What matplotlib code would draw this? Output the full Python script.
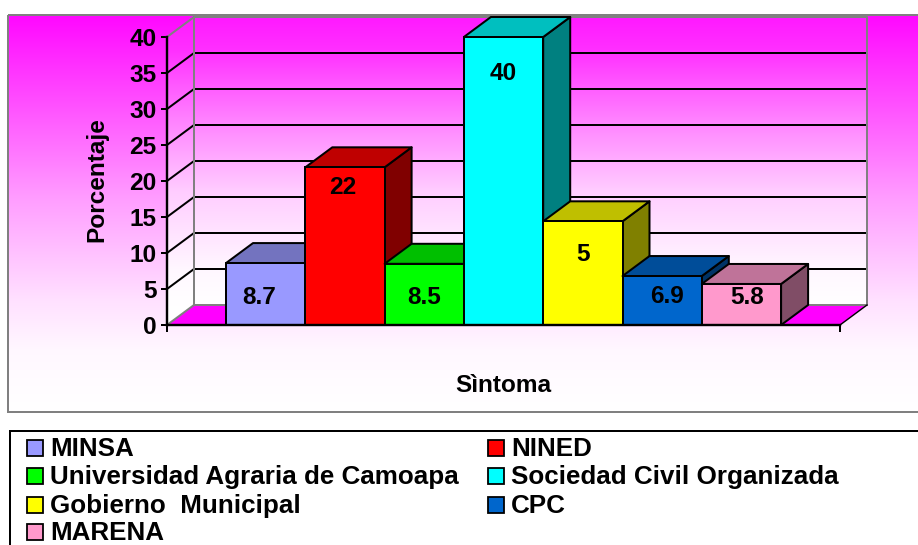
#!/usr/bin/env python3
"""Porcentaje por institucion: fake-3D column chart with magenta gradient."""

import numpy as np
import matplotlib
matplotlib.use('Agg')
import matplotlib.pyplot as plt
from matplotlib.patches import Polygon, Rectangle
from matplotlib.colors import to_rgb

plt.rcParams['font.family'] = ['Liberation Sans', 'DejaVu Sans']
plt.rcParams['font.weight'] = 'bold'

W, H = 918, 545

institutions = ['MINSA', 'NINED', 'Universidad Agraria de Camoapa',
                'Sociedad Civil Organizada', 'Gobierno  Municipal', 'CPC', 'MARENA']
heights = [8.6, 21.9, 8.5, 40, 14.4, 6.8, 5.7]
value_labels = ['8.7', '22', '8.5', '40', '5', '6.9', '5.8']
y_ticks = [0, 5, 10, 15, 20, 25, 30, 35, 40]
colors = ['#9999FF', '#FF0000', '#00FF00', '#00FFFF', '#FFFF00', '#0066CC', '#FF99CC']

# label nudges from bar centre/top, in px
label_dx = [-6, -2, 0, 0, 0, 5, 6]
label_dy = [-34, -20, -34, -37, -33, -20, -14]

DEPTH_X = 27 / 79.3     # bar widths
DEPTH_Y = 20 / 7.2      # percent units
FS = 17.6
FS_LEGEND = 18.7
PX = 0.72               # points per pixel at dpi 100


def shade(c, k):
    return tuple(v * k for v in to_rgb(c))


def gradient(stops_y, stops_v, y0, y1):
    """Vertical magenta->white ramp; v is the green/red channel level."""
    ys = np.linspace(y0, y1, 400)
    g = np.interp(ys, stops_y, stops_v)
    return np.dstack([np.ones_like(g), g, np.ones_like(g)])[:, None, :].reshape(400, 1, 3)


fig = plt.figure(figsize=(W / 100, H / 100), dpi=100, facecolor='white')

# ---------------------------------------------------------------- page, pixel coords
bg = fig.add_axes([0, 0, 1, 1], zorder=0)
bg.set_xlim(0, W)
bg.set_ylim(H, 0)
bg.axis('off')

bg.imshow(gradient([15, 100, 200, 300, 350, 410], [0.03, 0.3, 0.62, 0.88, 0.97, 1.0], 15, 412),
          extent=[8, W, 412, 15], aspect='auto', zorder=1)
bg.set_xlim(0, W)
bg.set_ylim(H, 0)
bg.add_patch(Rectangle((8, 15), W + 40, 397, fill=False, ec='#808080', lw=2 * PX, zorder=2))

# legend
bg.add_patch(Rectangle((10, 431), W + 40, 150, fc='white', ec='black', lw=2 * PX, zorder=2))
legend_x = [27, 488]
legend_y = [448, 476, 505, 532]
for i, (name, col) in enumerate(zip(institutions, colors)):
    lx = legend_x[i % 2]
    ly = legend_y[i // 2]
    bg.add_patch(Rectangle((lx, ly - 8), 15.5, 16, fc=col, ec='black', lw=1.8 * PX, zorder=3))
    bg.text(lx + 23, ly + 1, name, ha='left', va='center',
            fontsize=FS_LEGEND, fontweight='bold', color='black', zorder=3)

# ---------------------------------------------------------------- plot, data coords
ax = fig.add_axes([167 / W, (H - 325) / H, 673 / W, 288 / H], zorder=1)
ax.patch.set_visible(False)

xs = np.arange(len(heights))
xl = -0.5 - 59 / 79.3
xr = -0.5 + (840 - 226) / 79.3
ymax = y_ticks[-1]

# walls: left side wall + back wall, own gradient
wall = Polygon([(xl, 0), (xl + DEPTH_X, DEPTH_Y), (xr + DEPTH_X, DEPTH_Y),
                (xr + DEPTH_X, ymax + DEPTH_Y), (xl + DEPTH_X, ymax + DEPTH_Y), (xl, ymax)],
               closed=True, fc='none', ec='none', transform=ax.transData)
ax.add_patch(wall)
im = ax.imshow(gradient([16, 50, 117, 190, 270, 305], [0.1, 0.19, 0.5, 0.8, 0.97, 1.0], 16, 325),
               extent=[xl, xr + DEPTH_X, 0, ymax + DEPTH_Y], aspect='auto', zorder=1)
im.set_clip_box(fig.bbox)   # wall pokes out of the axes box
im.set_clip_path(wall)

# grid on the wall
for t in y_ticks[1:-1]:
    ax.plot([xl, xl + DEPTH_X, xr + DEPTH_X], [t, t + DEPTH_Y, t + DEPTH_Y],
            color='black', lw=2 * PX, zorder=2, clip_on=False, solid_joinstyle='miter')

# wall outline
ax.plot([xl, xl + DEPTH_X, xl + DEPTH_X, xr + DEPTH_X, xr + DEPTH_X, xl + DEPTH_X],
        [ymax, ymax + DEPTH_Y, DEPTH_Y, DEPTH_Y, ymax + DEPTH_Y, ymax + DEPTH_Y],
        color='#808080', lw=2 * PX, zorder=2.5, clip_on=False)

# floor
ax.add_patch(Polygon([(xl, 0), (xl + DEPTH_X, DEPTH_Y), (xr + DEPTH_X, DEPTH_Y), (xr, 0)],
                     closed=True, fc='#FF00FF', ec='none', zorder=2.6, clip_on=False))
ax.plot([xl, xl + DEPTH_X], [0, DEPTH_Y], color='#808080', lw=2 * PX, zorder=2.7, clip_on=False)
ax.plot([xl + DEPTH_X, xr + DEPTH_X], [DEPTH_Y, DEPTH_Y], color='#808080', lw=2 * PX, zorder=2.7, clip_on=False)
ax.plot([xr, xr + DEPTH_X], [0, DEPTH_Y], color='black', lw=1.4 * PX, zorder=2.7, clip_on=False)

# bars, left to right so each one overlaps the previous depth faces
for i, (x, h, c) in enumerate(zip(xs, heights, colors)):
    z = 3 + i * 0.1
    x0, x1 = x - 0.5, x + 0.5
    ax.add_patch(Polygon([(x1, 0), (x1 + DEPTH_X, DEPTH_Y), (x1 + DEPTH_X, h + DEPTH_Y), (x1, h)],
                         closed=True, fc=shade(c, 0.5), ec='black', lw=2 * PX, zorder=z,
                         clip_on=False, joinstyle='round'))
    ax.add_patch(Polygon([(x0, h), (x0 + DEPTH_X, h + DEPTH_Y), (x1 + DEPTH_X, h + DEPTH_Y), (x1, h)],
                         closed=True, fc=shade(c, 0.75), ec='black', lw=2 * PX, zorder=z,
                         clip_on=False, joinstyle='round'))
    ax.bar(x, h, width=1.0, color=c, edgecolor='black', linewidth=2 * PX, zorder=z + 0.05,
           clip_on=False)
    ax.annotate(value_labels[i], xy=(x, h), xytext=(label_dx[i] * PX, label_dy[i] * PX),
                textcoords='offset points', ha='center', va='center', fontsize=FS,
                fontweight='bold', color='black', zorder=5)

ax.set_xlim(xl, xr)
ax.set_ylim(0, ymax)

for side in ['top', 'right']:
    ax.spines[side].set_visible(False)
for side in ['left', 'bottom']:
    ax.spines[side].set_linewidth(2.4 * PX)
    ax.spines[side].set_zorder(6)

ax.set_yticks(y_ticks)
ax.tick_params(axis='y', length=6 * PX, width=2 * PX, pad=3.4, labelsize=FS)
ax.set_xticks([xl, xr])
ax.set_xticklabels(['', ''])
ax.tick_params(axis='x', length=7 * PX, width=2 * PX)
for lab in ax.get_yticklabels():
    lab.set_fontweight('bold')

ax.set_ylabel('Porcentaje', fontsize=FS, fontweight='bold', va='center')
ax.yaxis.set_label_coords((97 - 167) / 673, (325 - 180) / 288)
ax.set_xlabel('Sìntoma', fontsize=FS, fontweight='bold', va='center')
ax.xaxis.set_label_coords((503 - 167) / 673, (325 - 385) / 288)

fig.savefig('out.png', dpi=100)
